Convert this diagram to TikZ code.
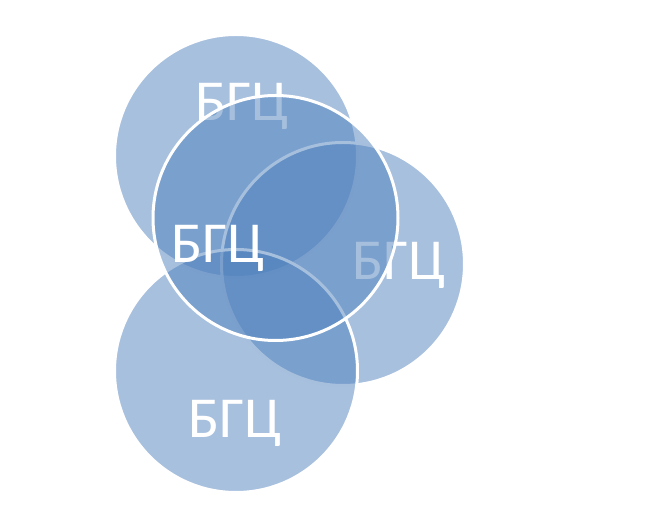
\documentclass[tikz,border=0pt]{standalone}
\usepackage{fontspec}
\setmainfont{Carlito}
\begin{document}
\begin{tikzpicture}[x=1pt,y=1pt,
  venn/.style={circle, inner sep=0pt, minimum size=243pt, fill={rgb,255:red,79;green,129;blue,189}, fill opacity=0.5, draw=white, draw opacity=1, line width=3pt},
  lbl/.style={anchor=base, text=white, inner sep=0pt, font=\fontsize{58}{60}\selectfont}]
\useasboundingbox (0,0) rectangle (657,528);
\node[venn] (top) at (236,372) {};
\node[lbl] (ttop) at (242,407) {БГЦ};
\node[venn] (right) at (343,264) {};
\node[lbl] (tright) at (399,248) {БГЦ};
\node[venn] (bottom) at (236,157) {};
\node[lbl] (tbottom) at (235,90) {БГЦ};
\node[venn, minimum size=245pt] (mid) at (275.5,310) {};
\node[lbl] (tmid) at (218,265) {БГЦ};
\end{tikzpicture}
\end{document}
